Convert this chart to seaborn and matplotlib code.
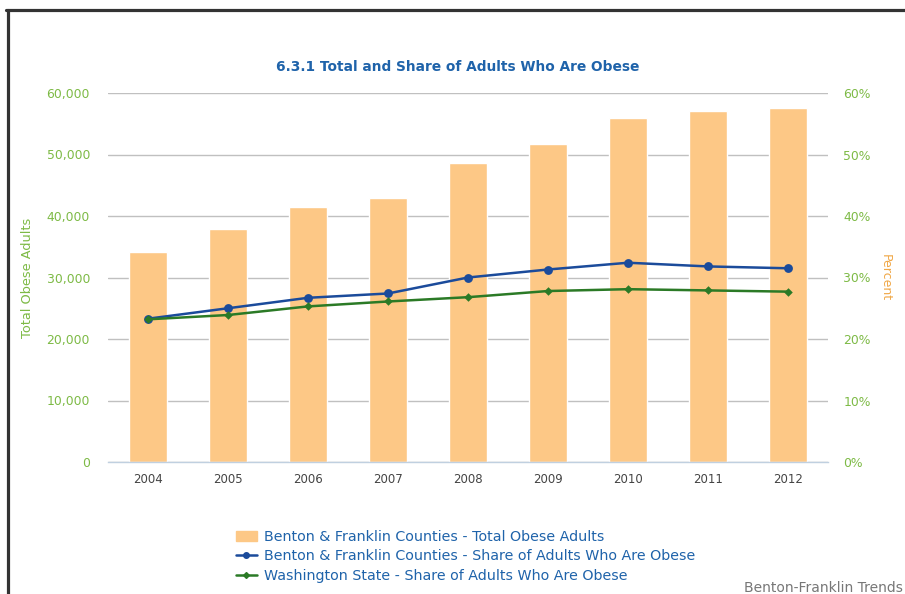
#Import Libraries
import pandas as pd
import numpy as np
import matplotlib.pyplot as plt
import seaborn as sns
from matplotlib.lines import Line2D
from matplotlib.patches import Patch
from matplotlib.ticker import FuncFormatter, FixedLocator

#Data
years = ['2004', '2005', '2006', '2007', '2008', '2009', '2010', '2011', '2012']
total_obese = [34200, 37900, 41450, 42900, 48600, 51700, 56000, 57000, 57500]
bf_share = [23.3, 25.0, 26.7, 27.4, 30.0, 31.3, 32.4, 31.8, 31.5]
wa_share = [23.2, 23.9, 25.3, 26.1, 26.8, 27.8, 28.1, 27.9, 27.7]

df = pd.DataFrame({'year': years, 'total': total_obese,
                   'bf': bf_share, 'wa': wa_share})

#Colors
bar_color = '#FDC886'
blue = '#1B4B9B'
green = '#2B7A26'
axis_green = '#7DBA45'
text_blue = '#1F63AA'

sns.set_style('white')
plt.rcParams['font.family'] = ['DejaVu Sans']

fig = plt.figure(figsize=(9.05, 5.94), dpi=100)
ax = fig.add_axes([108/905, 1 - 462/594, 720/905, 369/594])

#Bars
sns.barplot(data=df, x='year', y='total', color=bar_color, width=0.47,
            saturation=1, ax=ax, zorder=2)
ax.set_ylim(0, 60000)
ax.set_xlim(-0.5, 8.5)
ax.set_yticks(np.arange(0, 60001, 10000))
ax.yaxis.set_major_formatter(FuncFormatter(lambda v, p: f'{int(v):,}'))
ax.grid(axis='y', color='#C0C0C0', linewidth=1, zorder=0)
ax.set_axisbelow(True)
for s in ['top', 'left', 'right']:
    ax.spines[s].set_visible(False)
ax.spines['bottom'].set_color('#C0D0E0')
ax.spines['bottom'].set_linewidth(1)
ax.tick_params(axis='y', length=0, labelsize=8.9, labelcolor=axis_green, pad=13)
ax.tick_params(axis='x', which='major', length=0, labelsize=8.5,
               labelcolor='#444444', pad=8)
ax.xaxis.set_minor_locator(FixedLocator(np.arange(-0.5, 9, 1)))
ax.tick_params(axis='x', which='minor', length=8, color='#C0D0E0', width=1)
ax.set_xlabel('')
ax.set_ylabel('Total Obese Adults', color=axis_green, fontsize=9.3)
ax.yaxis.set_label_coords(-74/720, 0.5)

#Lines on second axis
ax2 = ax.twinx()
sns.pointplot(data=df, x='year', y='bf', color=blue, markers='o',
              markersize=5, linewidth=1.8, ax=ax2)
sns.pointplot(data=df, x='year', y='wa', color=green, markers='D',
              markersize=3, linewidth=1.8, ax=ax2)
ax2.set_ylim(0, 60)
ax2.set_xlim(-0.5, 8.5)
ax2.set_yticks(np.arange(0, 61, 10))
ax2.yaxis.set_major_formatter(FuncFormatter(lambda v, p: f'{int(v)}%'))
for s in ['top', 'left', 'right', 'bottom']:
    ax2.spines[s].set_visible(False)
ax2.tick_params(axis='y', length=0, labelsize=8.9, labelcolor=axis_green, pad=11)
ax2.set_ylabel('Percent', color='#F0A848', fontsize=9, rotation=-90)
ax2.yaxis.set_label_coords(1 + 64/720, 0.5)
ax2.set_xlabel('')

#Title
fig.text(458/905, 1 - 67/594, '6.3.1 Total and Share of Adults Who Are Obese',
         ha='center', va='center', fontsize=9.9, fontweight='bold', color=text_blue)

#Legend
handles = [
    Patch(facecolor=bar_color, edgecolor=bar_color),
    Line2D([0], [0], color=blue, marker='o', markersize=4, linewidth=1.8),
    Line2D([0], [0], color=green, marker='D', markersize=3, linewidth=1.8),
]
labels = ['Benton & Franklin Counties - Total Obese Adults',
          'Benton & Franklin Counties - Share of Adults Who Are Obese',
          'Washington State - Share of Adults Who Are Obese']
leg = fig.legend(handles, labels, loc='upper left',
                 bbox_to_anchor=(230/905, 1 - 524/594), frameon=False,
                 fontsize=10.3, handlelength=1.5, handletextpad=0.5,
                 labelspacing=0.38, borderaxespad=0)
for t in leg.get_texts():
    t.set_color(text_blue)

#Footer
fig.text(903/905, 1 - 588/594, 'Benton-Franklin Trends', ha='right',
         va='center', fontsize=10, color='#777777')

#Border
fig.add_artist(Line2D([7.5/905, 7.5/905], [0, 1 - 9.5/594], color='#333333',
                      linewidth=2.3, transform=fig.transFigure))
fig.add_artist(Line2D([6.3/905, 1], [1 - 9.5/594, 1 - 9.5/594], color='#333333',
                      linewidth=2.3, transform=fig.transFigure))

plt.savefig('out.png', dpi=100)
